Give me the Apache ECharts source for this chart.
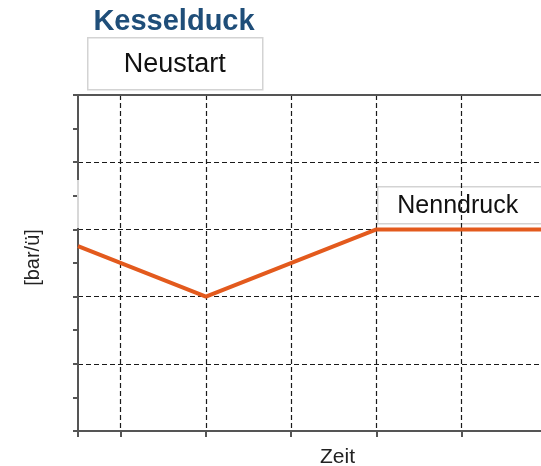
<!DOCTYPE html>
<html>
<head>
<meta charset="utf-8">
<style>
  html, body { margin: 0; padding: 0; background: #fff; }
  #main { width: 541px; height: 466px; }
</style>
<script src="https://cdn.jsdelivr.net/npm/echarts@6/dist/echarts.min.js"></script>
</head>
<body>
<div id="main"></div>
<script>
// Zeit-Achse in halben Rasterschritten (0..11), Druck in 0..10
var zeitSchritte = ['0','1','2','3','4','5','6','7','8','9','10','11'];
var druckVerlauf = [[0, 5.5], [3, 4], [7, 6], [11, 6]];
var titelText = 'Kesselduck';
var labelNeustart = 'Neustart';
var labelNenndruck = 'Nenndruck';
var achseX = 'Zeit';
var achseY = '[bar/ü]';

var achsFarbe = '#555';
var font = 'Liberation Sans, Arial, sans-serif';

var option = {
    backgroundColor: '#FFFFFF',
    animation: false,
    title: {
        text: titelText,
        left: 169,
        top: 2,
        textAlign: 'center',
        textStyle: { color: '#1F4E79', fontSize: 29, fontWeight: 'bold', fontFamily: font }
    },
    grid: { left: 78, top: 95, right: -6, bottom: 35, outerBoundsMode: 'none', containLabel: false },
    xAxis: [{
        type: 'category',
        data: zeitSchritte,
        boundaryGap: false,
        name: achseX,
        nameLocation: 'middle',
        nameGap: 16,
        nameTextStyle: { color: '#222', fontSize: 21, fontFamily: font, padding: [0, 0, 0, 50] },
        axisLine: { lineStyle: { color: achsFarbe, width: 2 } },
        axisTick: {
            length: 6,
            interval: function (i) { return i === 0 || i % 2 === 1; },
            lineStyle: { color: achsFarbe, width: 2 }
        },
        axisLabel: { show: false },
        splitLine: {
            show: true,
            interval: function (i) { return i % 2 === 1; },
            lineStyle: { color: '#1a1a1a', type: [5, 3], width: 1.2 }
        }
    }, {
        type: 'category',
        data: zeitSchritte,
        boundaryGap: false,
        position: 'top',
        axisLine: { lineStyle: { color: achsFarbe, width: 2 } },
        axisTick: { show: false },
        axisLabel: { show: false },
        splitLine: { show: false }
    }],
    yAxis: {
        type: 'value',
        min: 0,
        max: 10,
        interval: 2,
        name: achseY,
        nameLocation: 'middle',
        nameRotate: 90,
        nameGap: 35,
        nameTextStyle: { color: '#222', fontSize: 20, fontFamily: font, padding: [0, 0, 0, 11] },
        axisLine: { show: true, lineStyle: { color: achsFarbe, width: 2 } },
        axisTick: { show: true, length: 5, lineStyle: { color: achsFarbe, width: 2 } },
        minorTick: { show: true, splitNumber: 2, length: 5, lineStyle: { color: achsFarbe, width: 2 } },
        axisLabel: { show: false },
        splitLine: { show: true, lineStyle: { color: '#1a1a1a', type: [5, 3], width: 1.2 } }
    },
    series: [{
        type: 'line',
        data: druckVerlauf,
        showSymbol: false,
        symbol: 'none',
        lineStyle: { color: '#E35A1D', width: 4 },
        z: 3
    }],
    graphic: [
        // Hinweis-Kasten links oben
        {
            type: 'group', left: 87, top: 37,
            children: [
                { type: 'rect', shape: { x: 0, y: 0, width: 175, height: 52 },
                  style: { fill: '#fff', stroke: '#d3d3d3', lineWidth: 1.5 } },
                { type: 'text', x: 87, y: 27,
                  style: { text: labelNeustart, fill: '#111', font: '27px ' + font, align: 'center', verticalAlign: 'middle' } }
            ]
        },
        // Kasten über der Nenndruck-Linie
        {
            type: 'group', left: 377, top: 186, z: 10,
            children: [
                { type: 'rect', shape: { x: 0, y: 0, width: 170, height: 37 },
                  style: { fill: '#fff', stroke: '#d3d3d3', lineWidth: 1.5 } },
                { type: 'text', x: 80, y: 19,
                  style: { text: labelNenndruck, fill: '#111', font: '25px ' + font, align: 'center', verticalAlign: 'middle' } }
            ]
        },
        // heller Abschnitt der y-Achse
        { type: 'line', z: 10, shape: { x1: 78, y1: 180, x2: 78, y2: 228 },
          style: { stroke: '#d8d8d8', lineWidth: 2 } }
    ]
};

var myChart = echarts.init(document.getElementById('main'));
myChart.setOption(option);
</script>
</body>
</html>
